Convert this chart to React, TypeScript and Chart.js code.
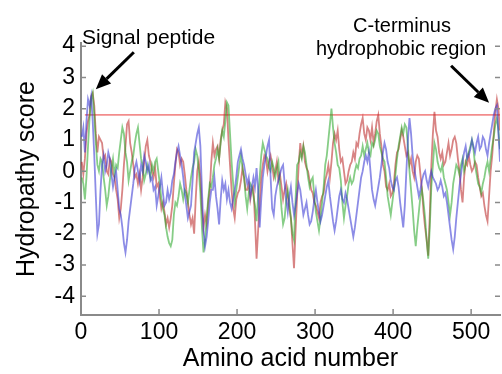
import React, { useEffect, useRef } from 'react';
import { Chart, registerables } from 'chart.js';

Chart.register(...registerables);

// Residue positions (amino acid number) at which hydropathy scores were read
const residues = [
  1, 3, 5, 7, 9, 11, 13, 15, 17, 19, 21, 23, 25, 27, 29, 31, 33, 35, 37,
  39, 41, 43, 45, 47, 49, 51, 53, 55, 57, 59, 61, 63, 65, 67, 69, 71, 73, 75, 77,
  79, 81, 83, 85, 87, 89, 91, 93, 95, 97, 99, 101, 103, 105, 107, 109, 111, 113, 115, 117,
  119, 121, 123, 125, 127, 129, 131, 133, 135, 137, 139, 141, 143, 145, 147, 149, 151, 153, 155, 157,
  159, 161, 163, 165, 167, 169, 171, 173, 175, 177, 179, 181, 183, 185, 187, 189, 191, 193, 195, 197,
  199, 201, 203, 205, 207, 209, 211, 213, 215, 217, 219, 221, 223, 225, 227, 229, 231, 233, 235, 237,
  239, 241, 243, 245, 247, 249, 251, 253, 255, 257, 259, 261, 263, 265, 267, 269, 271, 273, 275, 277,
  279, 281, 283, 285, 287, 289, 291, 293, 295, 297, 299, 301, 303, 305, 307, 309, 311, 313, 315, 317,
  319, 321, 323, 325, 327, 329, 331, 333, 335, 337, 339, 341, 343, 345, 347, 349, 351, 353, 355, 357,
  359, 361, 363, 365, 367, 369, 371, 373, 375, 377, 379, 381, 383, 385, 387, 389, 391, 393, 395, 397,
  399, 401, 403, 405, 407, 409, 411, 413, 415, 417, 419, 421, 423, 425, 427, 429, 431, 433, 435, 437,
  439, 441, 443, 445, 447, 449, 451, 453, 455, 457, 459, 461, 463, 465, 467, 469, 471, 473, 475, 477,
  479, 481, 483, 485, 487, 489, 491, 493, 495, 497, 499, 501, 503, 505, 507, 509, 511, 513, 515, 517,
  519, 521, 523, 525, 527, 529, 531, 533, 535, 537,
];

const redScore = [
  0.3, -0.1, 0.4, 1.2, 1.6, 1.8, 2.4, 2.5, 2.1, 1.2, 0.6, 1.1, 1.0, 0.9, 0.4, 0.5, 0.0, -0.1, 0.4,
  0.3, -0.1, -0.2, -0.6, -0.9, -1.5, -1.2, -0.6, 0.2, 0.8, 1.5, 1.6, 0.9, 0.6, 0.2, -0.2, -0.1, -0.4, -0.1, -0.6,
  -0.2, 0.3, 0.8, 1.0, 0.5, 0.3, 0.0, -0.2, 0.1, -0.5, -0.4, -0.8, -1.2, -1.0, -1.3, -1.7, -1.5, -1.8, -1.5, -1.1,
  -0.4, 0.2, 0.7, 0.6, 0.2, 0.4, 0.3, -0.1, -0.6, -1.0, -1.4, -1.7, -1.5, -2.0, -0.9, 0.0, 0.3, -0.2, -1.2, -1.8,
  -1.4, -1.7, -1.0, -0.6, 0.3, 0.9, 0.5, 0.7, 0.8, 0.4, 1.0, 1.3, 1.5, 2.2, 2.0, 1.0, 0.2, -0.6, -1.2, -1.5,
  -0.9, -0.7, -0.6, -0.3, 0.1, -0.2, -0.6, -0.6, -0.4, -0.9, -0.6, -0.5, -1.6, -2.8, -1.9, -1.0, -0.2, 0.2, 0.5, 0.4,
  0.0, 0.3, 0.5, 0.2, -0.2, 0.0, 0.3, -0.3, -0.1, -0.5, -0.9, -0.6, -0.4, -0.8, -1.2, -1.5, -2.3, -3.1, -1.9, -0.8,
  0.2, 0.9, 0.5, 0.8, 0.3, 0.1, 0.0, -0.3, -0.6, -0.7, -1.0, -1.1, -1.3, -1.5, -1.0, -0.8, -0.7, -0.3, -0.1, 0.2,
  -0.2, 0.3, 0.9, 1.2, 1.0, 1.3, 0.7, 0.3, 0.4, 0.0, -0.4, -0.3, 0.0, 0.2, 0.3, 0.6, 0.4, 0.9, 0.8, 1.2,
  1.5, 1.7, 1.2, 1.0, 1.4, 1.3, 1.0, 1.4, 0.9, 1.2, 1.6, 1.8, 1.2, 0.8, 0.2, 0.0, -0.5, -0.6, -0.4, -0.8,
  -0.7, -0.4, 0.2, 0.6, 0.7, 1.0, 1.3, 1.1, 0.8, 0.5, 0.6, 0.2, 0.4, 0.0, -0.2, 0.3, 0.5, 0.4, -0.1, -0.6,
  -1.3, -1.8, -2.2, -2.7, -1.4, 0.2, 1.2, 1.9, 1.3, 1.1, 0.6, 0.4, 0.6, 0.2, 0.3, 0.6, 0.9, 0.5, 0.7, 1.0,
  1.1, 0.9, 0.4, 0.0, -0.6, -1.0, -0.2, 0.3, 0.2, 0.5, 0.2, 0.0, 0.1, 0.3, 0.2, -0.2, -0.5, -0.8, -0.7, -1.1,
  -1.4, -1.6, -0.8, 0.0, 0.5, 1.2, 1.9, 2.3, 2.0, 1.3,
];

const greenScore = [
  -0.2, -0.4, -0.9, -0.2, 0.8, 1.7, 2.3, 2.5, 1.8, 0.9, 0.2, 0.0, 0.4, 0.3, -0.2, -0.6, -1.1, -0.8, -0.3,
  0.1, 0.4, -0.1, 0.2, 0.1, 0.6, 1.0, 1.4, 1.2, 0.6, 0.3, -0.3, 0.0, 0.3, 0.5, 0.9, 1.2, 1.4, 0.9, 0.4,
  0.2, -0.3, -0.1, 0.2, 0.0, -0.2, 0.2, 0.0, 0.3, 0.4, 0.0, -0.4, -0.9, -1.2, -1.4, -1.8, -2.1, -2.3, -2.4, -2.2,
  -1.4, -1.0, -1.1, -0.8, -0.4, -0.6, -0.9, -0.6, -0.7, -1.0, -0.6, -0.2, 0.1, 0.3, 0.7, 0.5, 0.0, -0.7, -1.8, -2.6,
  -2.2, -1.5, -0.9, -0.4, -0.5, -0.2, 0.2, 0.4, 0.7, 0.4, 0.9, 1.3, 1.1, 1.6, 2.2, 2.1, 1.2, 0.3, -0.4, -1.0,
  -0.6, -0.2, 0.2, 0.5, 0.1, -0.2, -0.8, -1.2, -0.7, -0.4, -0.5, -0.8, -1.1, -1.6, -0.8, -0.2, 0.5, 0.9, 0.7, 0.5,
  0.4, 0.1, 0.0, 0.3, 0.1, -0.2, 0.1, 0.3, -0.5, -1.2, -1.7, -1.5, -0.9, -0.6, -1.0, -1.5, -2.0, -2.2, -0.9, 0.2,
  0.3, 0.6, 0.4, 0.8, 0.6, 0.2, -0.2, -0.5, -0.3, -0.2, -0.8, -1.3, -1.6, -1.9, -1.5, -1.0, -0.5, 0.2, 0.5, 1.0,
  1.5, 2.0, 1.4, 0.9, 0.6, 0.2, 0.1, -0.3, -1.0, -1.5, -1.1, -0.8, -0.4, -0.2, -0.4, -0.3, 0.0, 0.2, 0.1, 0.4,
  0.5, 0.8, 0.5, 0.7, 0.9, 0.6, 0.5, 0.9, 0.8, 1.0, 1.3, 1.2, 0.8, 0.6, 0.4, 0.3, -0.2, -0.8, -1.1, -1.4,
  -1.0, -0.6, -0.1, 0.4, 0.8, 1.1, 1.4, 1.2, 1.5, 1.4, 0.8, 0.0, -0.6, -1.2, -1.9, -2.4, -1.8, -1.3, -0.8, -0.6,
  -1.0, -1.5, -2.2, -2.8, -1.8, -0.5, 0.2, 0.9, 0.7, 0.3, 0.1, 0.0, 0.2, -0.2, -0.4, -0.6, -1.0, -1.4, -1.0, -0.4,
  -0.1, 0.2, 0.1, -0.1, 0.2, 0.4, 0.0, 0.2, 0.5, 0.6, 0.8, 1.0, 0.7, 0.2, -0.1, -0.4, -0.5, -0.7, -0.4, -0.2,
  0.1, 0.3, 0.0, 0.4, 0.8, 1.1, 1.5, 1.7, 1.3, 0.7,
];

const blueScore = [
  1.1, 1.4, 0.6, 1.6, 2.3, 2.1, 2.4, 1.6, 0.5, -0.8, -2.0, -1.7, -0.6, 0.2, 0.5, 0.0, 0.2, 0.6, 0.4,
  -0.1, -0.5, -0.2, 0.0, -0.6, -1.2, -1.4, -1.8, -2.3, -2.6, -2.2, -1.6, -1.2, -0.8, -0.4, 0.1, 0.3, 0.0, -0.3, 0.2,
  0.0, 0.5, 0.3, 0.0, 0.2, -0.3, -0.2, -0.6, -0.5, -1.1, -0.8, -0.5, -0.2, -0.7, -1.1, -1.0, -0.6, -0.9, -0.7, -0.3,
  -0.1, 0.3, 0.6, 0.8, 0.5, 0.2, -0.2, -0.7, -1.1, -1.5, -1.3, -1.1, -0.3, 0.6, 0.9, 1.2, 1.4, 0.8, -0.6, -1.9,
  -2.4, -2.1, -1.6, -1.0, -0.6, -0.6, -0.2, -0.8, -1.2, -1.7, -0.9, -0.3, -0.6, -0.4, -0.9, -0.6, -1.0, -1.2, -0.9, -0.6,
  -0.2, 0.3, 0.5, 0.7, 0.4, 0.2, -0.1, -0.4, -0.2, -0.8, -0.5, -0.2, -0.5, 0.1, -0.6, -1.8, -0.9, -0.2, 0.2, 0.5,
  0.8, 1.0, -0.2, -1.2, -1.4, -0.8, -0.5, -0.3, -0.1, 0.1, 0.2, -0.4, -0.9, -1.3, -0.8, -0.5, -1.0, -1.4, -1.1, -0.7,
  -0.4, -0.6, -1.0, -1.4, -1.2, -1.0, -1.4, -1.7, -1.6, -1.3, -0.9, -0.6, -1.0, -1.3, -1.6, -1.4, -1.1, -0.8, -0.5, -0.3,
  -0.8, -1.2, -1.6, -1.9, -1.6, -1.2, -0.8, -0.6, -0.9, -1.0, -0.7, -0.9, -1.2, -1.5, -1.8, -2.1, -1.8, -1.4, -1.0, -0.6,
  -0.2, 0.0, 0.3, 0.5, 0.3, 0.6, 0.0, -0.6, -0.9, -1.1, -0.8, -0.5, -0.2, 0.2, 0.6, 0.9, 0.7, 0.3, 0.1, -0.3,
  -0.5, -0.6, -0.3, -0.2, -0.5, -1.0, -1.4, -1.8, -1.1, 0.0, 1.0, 1.7, 1.2, 0.5, 0.1, -0.2, -0.5, -0.8, -0.6, -0.3,
  -0.1, 0.0, -0.3, -0.5, -0.2, 0.0, -0.2, -0.3, -0.4, -0.6, -0.5, -0.3, -0.5, -0.8, -0.7, -1.0, -1.4, -1.8, -2.2, -2.5,
  -2.1, -1.5, -1.0, -0.5, -0.1, 0.3, 0.6, 0.8, 0.4, 0.5, 0.7, 1.0, 0.8, 0.6, 0.9, 1.1, 0.7, 0.8, 1.1, 1.0,
  0.7, 0.5, 0.9, 1.2, 1.5, 1.8, 2.0, 2.1, 1.2, 0.3,
];

const thresholdScore = 1.8;
const thresholdSpan = [5, 537];

const xTicks = [0, 100, 200, 300, 400, 500];
const yTicks = [-4, -3, -2, -1, 0, 1, 2, 3, 4];

const FONT = '"Liberation Sans", Arial, Helvetica, sans-serif';

function drawArrow(ctx: CanvasRenderingContext2D, x1: number, y1: number, x2: number, y2: number) {
  const ang = Math.atan2(y2 - y1, x2 - x1);
  const hl = 15;
  const hw = 6.5;
  const bx = x2 - hl * Math.cos(ang);
  const by = y2 - hl * Math.sin(ang);
  ctx.beginPath();
  ctx.moveTo(x1, y1);
  ctx.lineTo(bx, by);
  ctx.lineWidth = 3;
  ctx.stroke();
  ctx.beginPath();
  ctx.moveTo(x2, y2);
  ctx.lineTo(bx + hw * Math.sin(ang), by - hw * Math.cos(ang));
  ctx.lineTo(bx - hw * Math.sin(ang), by + hw * Math.cos(ang));
  ctx.closePath();
  ctx.fill();
}

const decorPlugin = {
  id: 'decor',
  afterDraw(chart: any) {
    const { ctx, chartArea: ca, scales } = chart;
    const xs = scales.x;
    const ys = scales.y;
    ctx.save();
    // inward tick marks (left, right, bottom)
    ctx.strokeStyle = '#8a8a8a';
    ctx.lineWidth = 1.5;
    ctx.beginPath();
    yTicks.forEach((v) => {
      const py = ys.getPixelForValue(v);
      ctx.moveTo(ca.left, py);
      ctx.lineTo(ca.left + 5, py);
      ctx.moveTo(ca.right, py);
      ctx.lineTo(ca.right - 5, py);
    });
    xTicks.forEach((v) => {
      const px = xs.getPixelForValue(v);
      ctx.moveTo(px, ca.bottom);
      ctx.lineTo(px, ca.bottom - 6);
    });
    ctx.stroke();

    // annotations
    ctx.fillStyle = '#000';
    ctx.strokeStyle = '#000';
    ctx.textBaseline = 'alphabetic';
    ctx.textAlign = 'left';
    ctx.font = `21px ${FONT}`;
    ctx.fillText('Signal peptide', 82, 44);
    ctx.font = `20px ${FONT}`;
    ctx.textAlign = 'center';
    ctx.fillText('C-terminus', 402, 32);
    ctx.fillText('hydrophobic region', 401, 55);

    const h1x = xs.getPixelForValue(19);
    const h1y = ys.getPixelForValue(2.62);
    drawArrow(ctx, h1x + 38, h1y - 37, h1x, h1y);
    const h2x = xs.getPixelForValue(523);
    const h2y = ys.getPixelForValue(2.19);
    drawArrow(ctx, h2x - 38, h2y - 37, h2x, h2y);
    ctx.restore();
  },
};

export default function App() {
  const canvasRef = useRef<HTMLCanvasElement | null>(null);

  useEffect(() => {
    document.body.style.margin = '0';
    const canvas = canvasRef.current;
    if (!canvas) return;
    const pts = (ys: number[]) => residues.map((r, i) => ({ x: r, y: ys[i] }));
    const line = (label: string, ys: number[], color: string) => ({
      label,
      data: pts(ys),
      borderColor: color,
      borderWidth: 1.8,
      pointRadius: 0,
      tension: 0,
    });
    const chart = new Chart(canvas, {
      type: 'line',
      data: {
        datasets: [
          line('Blue', blueScore, 'rgba(50,50,210,0.56)'),
          line('Green', greenScore, 'rgba(40,165,40,0.56)'),
          line('Red', redScore, 'rgba(185,35,35,0.56)'),
          {
            label: 'Threshold',
            data: thresholdSpan.map((x) => ({ x, y: thresholdScore })),
            borderColor: 'rgba(240,120,120,0.85)',
            borderWidth: 1.6,
            pointRadius: 0,
          },
        ],
      },
      options: {
        animation: false,
        responsive: false,
        maintainAspectRatio: false,
        layout: { padding: { top: 43, right: 2, left: 0, bottom: 0 } },
        plugins: { legend: { display: false }, tooltip: { enabled: false } },
        scales: {
          x: {
            type: 'linear',
            min: 0,
            max: 537,
            afterBuildTicks: (s: any) => {
              s.ticks = xTicks.map((v) => ({ value: v }));
            },
            afterFit: (s: any) => {
              s.height = 59;
            },
            grid: { display: false, drawTicks: false },
            border: { display: true, color: '#8a8a8a', width: 2 },
            ticks: {
              color: '#000',
              font: { family: FONT, size: 23 },
              padding: 4,
              maxRotation: 0,
              autoSkip: false,
            },
            title: {
              display: true,
              text: 'Amino acid number',
              color: '#000',
              font: { family: FONT, size: 25 },
              padding: { top: 0, bottom: 0 },
            },
          },
          y: {
            type: 'linear',
            min: -4.6,
            max: 4.1,
            afterBuildTicks: (s: any) => {
              s.ticks = yTicks.map((v) => ({ value: v }));
            },
            afterFit: (s: any) => {
              s.width = 81;
            },
            grid: { display: false, drawTicks: false },
            border: { display: true, color: '#8a8a8a', width: 2 },
            ticks: {
              color: '#000',
              font: { family: FONT, size: 23 },
              padding: 6,
              autoSkip: false,
            },
            title: {
              display: true,
              text: 'Hydropathy score',
              color: '#000',
              font: { family: FONT, size: 25 },
              padding: { top: 12, bottom: 0 },
            },
          },
        },
      },
      plugins: [decorPlugin],
    });
    return () => chart.destroy();
  }, []);

  return (
    <div style={{ width: 502, height: 374 }}>
      <canvas ref={canvasRef} width={502} height={374} style={{ display: 'block' }} />
    </div>
  );
}
